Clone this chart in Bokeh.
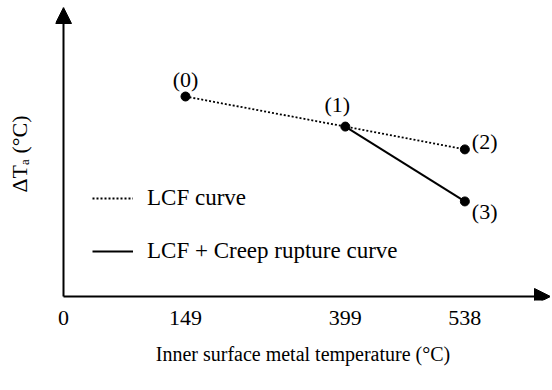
from bokeh.plotting import figure
from bokeh.models import Range1d, FixedTicker, Arrow, NormalHead, Legend, LegendItem, ColumnDataSource
from bokeh.core.properties import value
from bokeh.embed import file_html
from bokeh.resources import INLINE

# x axis is schematic (non-linear): temperatures and their axis positions
temp_ticks = [0, 149, 399, 538]
tick_pos = [0.0, 1.0, 2.31, 3.29]
pos = dict(zip(temp_ticks, tick_pos))

# state points
pt_names = ["(0)", "(1)", "(2)", "(3)"]
pt_temp = [149, 399, 538, 538]
pt_dTa = [69.2, 58.8, 50.9, 32.9]   # relative ΔTa (no scale in original)
lcf_idx = [0, 1, 2]
creep_idx = [1, 3]

# label placement (screen px)
lab_dx = [0, -8, 7, 7]
lab_dy = [-17, -22, -8, 10]
lab_align = ["center", "center", "left", "left"]

FONT = "Liberation Serif"
X0, X1 = -0.0656, 3.992
Y0, Y1 = -1.38, 100.0

p = figure(width=550, height=388, output_backend="svg", toolbar_location=None,
           x_range=Range1d(X0, X1), y_range=Range1d(Y0, Y1),
           min_border_left=55, min_border_right=0, min_border_top=7, min_border_bottom=88)
p.outline_line_color = None
p.grid.visible = False
p.background_fill_color = "white"

# axes (line hidden; drawn by arrows)
xa = p.xaxis[0]
xa.ticker = FixedTicker(ticks=tick_pos)
xa.major_label_overrides = {tp: str(t) for tp, t in zip(tick_pos, temp_ticks)}
xa.axis_line_color = None
xa.major_tick_line_color = None
xa.minor_tick_line_color = None
xa.major_label_standoff = 4
xa.major_label_text_font = FONT
xa.major_label_text_font_size = "22px"
xa.major_label_text_color = "black"
xa.axis_label = "Inner surface metal temperature (°C)"
xa.axis_label_text_font = FONT
xa.axis_label_text_font_style = "normal"
xa.axis_label_text_font_size = "20px"
xa.axis_label_text_color = "black"
xa.axis_label_standoff = 15

ya = p.yaxis[0]
ya.ticker = FixedTicker(ticks=[])
ya.axis_line_color = None
ya.major_tick_line_color = None
ya.minor_tick_line_color = None
ya.major_label_text_font_size = "0px"
ya.axis_label = "ΔTₐ (°C)"
ya.axis_label_text_font = FONT
ya.axis_label_text_font_style = "normal"
ya.axis_label_text_font_size = "22px"
ya.axis_label_text_color = "black"
ya.axis_label_standoff = 24

# axis arrows
p.add_layout(Arrow(end=NormalHead(size=16, fill_color="black", line_color="black"),
                   x_start=0, y_start=0, x_end=X1, y_end=0, line_width=2, line_color="black"))
p.add_layout(Arrow(end=NormalHead(size=16, fill_color="black", line_color="black"),
                   x_start=0, y_start=0, x_end=0, y_end=Y1, line_width=2, line_color="black"))

px = [pos[t] for t in pt_temp]

r_lcf = p.line([px[i] for i in lcf_idx], [pt_dTa[i] for i in lcf_idx],
               line_color="black", line_width=1.8, line_dash="2 2")
r_creep = p.line([px[i] for i in creep_idx], [pt_dTa[i] for i in creep_idx],
                 line_color="black", line_width=2)
p.scatter(px, pt_dTa, size=9, color="black")

src = ColumnDataSource(dict(x=px, y=pt_dTa, t=pt_names, dx=lab_dx, dy=lab_dy, al=lab_align))
p.text(x="x", y="y", text="t", x_offset="dx", y_offset="dy", text_align="al", source=src,
       text_baseline="middle", text_font=value(FONT), text_font_size="22px", text_color="black")

legend = Legend(items=[LegendItem(label="LCF curve", renderers=[r_lcf]),
                       LegendItem(label="LCF + Creep rupture curve", renderers=[r_creep])],
                location=(37, 36), padding=0, margin=0, spacing=27,
                glyph_width=41, glyph_height=24, label_height=24, label_standoff=14,
                label_text_font=FONT, label_text_font_size="23px", label_text_color="black",
                border_line_alpha=0, background_fill_alpha=0)
p.add_layout(legend)

open("out.html", "w").write(file_html(p, INLINE))
